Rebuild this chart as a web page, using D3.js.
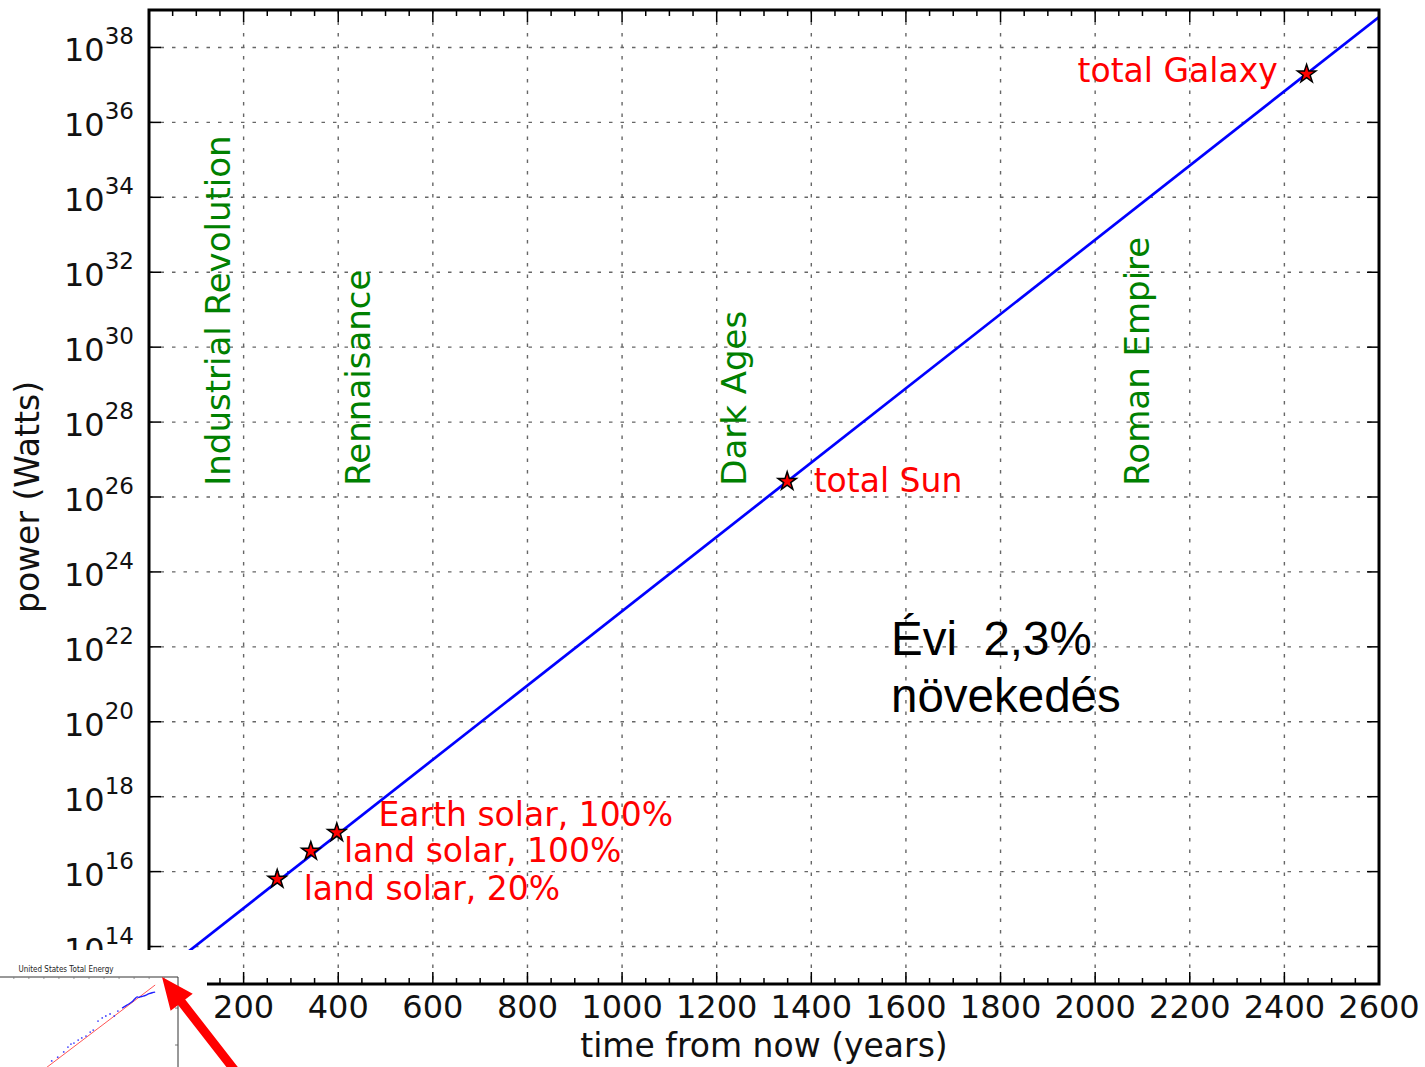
<!DOCTYPE html>
<html><head><meta charset="utf-8">
<script src="https://cdn.jsdelivr.net/npm/d3@7"></script>
<style>body{margin:0;background:#fff}</style>
</head><body>
<svg id="c" width="1425" height="1067" xmlns="http://www.w3.org/2000/svg"></svg>
<script>
// ---------- data ----------
const xTickValues = [0,200,400,600,800,1000,1200,1400,1600,1800,2000,2200,2400,2600];
const yTickExponents = [14,16,18,20,22,24,26,28,30,32,34,36,38];
const growthYears = [0, 2600];
const growthPower = [1.1e13, 6.5e38];
const milestoneNames = ["land solar, 20%","land solar, 100%","Earth solar, 100%","total Sun","total Galaxy"];
const milestoneYears = [271, 342, 397, 1349, 2447];
const milestonePower = [6.3e15, 3.5e16, 1.1e17, 2.6e26, 1.95e37];
// label anchor positions (data coords)
const labelYears = [327, 412, 485, 1405, 2386];
const labelPower = [1.7e15, 1.85e16, 1.65e17, 1.4e26, 1.2e37];
const labelAnchor = ["start","start","start","start","end"];
const eraNames = ["Industrial Revolution","Rennaisance","Dark Ages","Roman Empire"];
const eraYears = [171, 468, 1261, 2114];
const eraPower = 2.0e26;
const noteLines = ["Évi  2,3%","növekedés"];
const xLabel = "time from now (years)";
const yLabel = "power (Watts)";
// inset: United States Total Energy
const insetTitle = "United States Total Energy";
const insetDotYears = [1838,1848,1858,1865,1870,1875,1882,1888,1895,1902,1907,1915,1922,1928,1935,1942,1948];
const insetDotPower = [3.7e10,4.7e10,6.5e10,8.8e10,1.06e11,1.13e11,1.36e11,1.55e11,1.75e11,2.24e11,2.54e11,4.45e11,5.4e11,6.1e11,6.9e11,6.1e11,8.3e11];
const insetLineYears = [1955,1963,1971,1976,1980,1983,1985,1990,1995,2000,2005,2010];
const insetLinePower = [1.0e12,1.2e12,1.45e12,1.75e12,2.0e12,1.95e12,2.0e12,2.1e12,2.25e12,2.45e12,2.6e12,2.7e12];
const insetFitYears = [1830, 2010];
const insetFitPower = [2.5e10, 4.2e12];

// ---------- chart ----------
const svg = d3.select("#c");
const FONT = "DejaVu Sans, Bitstream Vera Sans, sans-serif";
const L = 149, R = 1379, T = 10, B = 984;
const x = d3.scaleLinear().domain([0,2600]).range([L,R]);
const y = d3.scaleLog().domain([1e13,1e39]).range([B,T]);

svg.append("defs").append("clipPath").attr("id","plotclip")
  .append("rect").attr("x",L).attr("y",T).attr("width",R-L).attr("height",B-T);

// grid
const grid = svg.append("g").attr("stroke","#666").attr("stroke-width",1.4).attr("stroke-dasharray","3.5,8");
grid.selectAll("line.v").data(xTickValues).join("line")
  .attr("x1",d=>x(d)).attr("x2",d=>x(d)).attr("y1",T).attr("y2",B);
grid.selectAll("line.h").data(yTickExponents).join("line")
  .attr("y1",d=>y(Math.pow(10,d))).attr("y2",d=>y(Math.pow(10,d))).attr("x1",L).attr("x2",R);

// growth line
const line = d3.line().x(d=>x(d[0])).y(d=>y(d[1]));
svg.append("path").attr("clip-path","url(#plotclip)")
  .datum(d3.zip(growthYears, growthPower))
  .attr("d", line).attr("fill","none").attr("stroke","#0000ff").attr("stroke-width",2.7);

// stars
const star = d3.symbol(d3.symbolStar, 105);
svg.selectAll("path.star").data(d3.zip(milestoneYears, milestonePower)).join("path")
  .attr("transform",d=>`translate(${x(d[0])},${y(d[1])})`)
  .attr("d", star).attr("fill","#ff0000").attr("stroke","#000").attr("stroke-width",1.5);

// milestone labels
svg.selectAll("text.ml").data(d3.range(milestoneNames.length)).join("text")
  .attr("x",i=>x(labelYears[i])).attr("y",i=>y(labelPower[i]))
  .attr("text-anchor",i=>labelAnchor[i])
  .attr("font-family",FONT).attr("font-size",33).attr("fill","#ff0000")
  .text(i=>milestoneNames[i]);

// era labels
svg.selectAll("text.era").data(d3.range(eraNames.length)).join("text")
  .attr("transform",i=>`translate(${x(eraYears[i])},${y(eraPower)}) rotate(-90)`)
  .attr("text-anchor","start")
  .attr("font-family",FONT).attr("font-size",34).attr("fill","#008000")
  .text(i=>eraNames[i]);

// note
const note = svg.append("text").attr("font-family","Liberation Sans, Arial, sans-serif")
  .attr("font-size",47.5).attr("fill","#000").style("white-space","pre");
note.selectAll("tspan").data(noteLines).join("tspan")
  .attr("x",891).attr("y",(d,i)=>655+i*57).text(d=>d);

// frame
svg.append("rect").attr("x",L).attr("y",T).attr("width",R-L).attr("height",B-T)
  .attr("fill","none").attr("stroke","#000").attr("stroke-width",3);

// ticks
const ticks = svg.append("g").attr("stroke","#000").attr("stroke-width",1.5);
const xMinor = d3.range(0,2601,50).filter(v=>v%200!==0);
xTickValues.forEach(v=>{
  ticks.append("line").attr("x1",x(v)).attr("x2",x(v)).attr("y1",B).attr("y2",B-12);
  ticks.append("line").attr("x1",x(v)).attr("x2",x(v)).attr("y1",T).attr("y2",T+12);
});
xMinor.forEach(v=>{
  ticks.append("line").attr("x1",x(v)).attr("x2",x(v)).attr("y1",B).attr("y2",B-6);
  ticks.append("line").attr("x1",x(v)).attr("x2",x(v)).attr("y1",T).attr("y2",T+6);
});
yTickExponents.forEach(e=>{
  const yy = y(Math.pow(10,e));
  ticks.append("line").attr("x1",L).attr("x2",L+12).attr("y1",yy).attr("y2",yy);
  ticks.append("line").attr("x1",R).attr("x2",R-12).attr("y1",yy).attr("y2",yy);
});

// x tick labels
svg.selectAll("text.xt").data(xTickValues).join("text")
  .attr("x",d=>x(d)).attr("y",B+34).attr("text-anchor","middle")
  .attr("font-family",FONT).attr("font-size",32).attr("fill","#111").text(d=>d);

// y tick labels
const yl = svg.selectAll("text.yt").data(yTickExponents).join("text")
  .attr("x",L-15).attr("y",d=>y(Math.pow(10,d))+14).attr("text-anchor","end")
  .attr("font-family",FONT).attr("font-size",32).attr("fill","#111");
yl.append("tspan").text("10");
yl.append("tspan").attr("font-size",23).attr("dy",-17).text(d=>d);

// axis labels
svg.append("text").attr("x",(L+R)/2).attr("y",1057).attr("text-anchor","middle")
  .attr("font-family",FONT).attr("font-size",33).attr("fill","#111").text(xLabel);
svg.append("text").attr("transform",`translate(39,${(T+B)/2}) rotate(-90)`).attr("text-anchor","middle")
  .attr("font-family",FONT).attr("font-size",33).attr("fill","#111").text(yLabel);

// ---------- inset ----------
svg.append("rect").attr("x",0).attr("y",950).attr("width",207).attr("height",117).attr("fill","#fff");
const iL = 0, iR = 178, iT = 977, iB = 1067;
const xi = d3.scaleLinear().domain([1752,2048]).range([iL,iR]);
const yi = d3.scaleLog().domain([Math.pow(10,10.405), Math.pow(10,12.84)]).range([iB,iT]);
svg.append("defs").append("clipPath").attr("id","insetclip")
  .append("rect").attr("x",iL).attr("y",iT).attr("width",iR-iL).attr("height",iB-iT);
const ins = svg.append("g");
ins.append("text").attr("x",66).attr("y",972).attr("text-anchor","middle")
  .attr("font-family",FONT).attr("font-size",9).attr("fill","#222")
  .attr("textLength",95).attr("lengthAdjust","spacingAndGlyphs").text(insetTitle);
const ig = ins.append("g").attr("clip-path","url(#insetclip)");
ig.append("path").datum(d3.zip(insetFitYears, insetFitPower))
  .attr("d", d3.line().x(d=>xi(d[0])).y(d=>yi(d[1])))
  .attr("fill","none").attr("stroke","#ff5555").attr("stroke-width",1);
ig.selectAll("circle").data(d3.zip(insetDotYears, insetDotPower)).join("circle")
  .attr("cx",d=>xi(d[0])).attr("cy",d=>yi(d[1])).attr("r",0.9).attr("fill","#4444ff");
ig.append("path").datum(d3.zip(insetLineYears, insetLinePower))
  .attr("d", d3.line().curve(d3.curveMonotoneX).x(d=>xi(d[0])).y(d=>yi(d[1])))
  .attr("fill","none").attr("stroke","#2222ff").attr("stroke-width",1.4);
ins.append("path").attr("d",`M${iL},${iT}H${iR}V${iB}`).attr("fill","none").attr("stroke","#333").attr("stroke-width",1);
[1e11,1e12].forEach(v=>{
  ins.append("line").attr("x1",iR).attr("x2",iR-3).attr("y1",yi(v)).attr("y2",yi(v)).attr("stroke","#555").attr("stroke-width",0.8);
});
d3.range(1775,2048,25).forEach(v=>{
  ins.append("line").attr("x1",xi(v)).attr("x2",xi(v)).attr("y1",iT).attr("y2",iT+2).attr("stroke","#777").attr("stroke-width",0.8);
});

// red arrow pointing at inset corner
const tip = [162, 977], tail = [236, 1072];
const dx = tail[0]-tip[0], dy = tail[1]-tip[1], len = Math.hypot(dx,dy);
const ux = dx/len, uy = dy/len, px = -uy, py = ux;
const hl = 32, hw = 14, sw = 4.5;
const bx = tip[0]+ux*hl, by = tip[1]+uy*hl;
const arrow = [
  tip,
  [bx+px*hw, by+py*hw],
  [bx+px*sw, by+py*sw],
  [tail[0]+px*sw, tail[1]+py*sw],
  [tail[0]-px*sw, tail[1]-py*sw],
  [bx-px*sw, by-py*sw],
  [bx-px*hw, by-py*hw]
];
svg.append("path").attr("d", d3.line()(arrow)+"Z").attr("fill","#ff0000");
</script>
</body></html>
